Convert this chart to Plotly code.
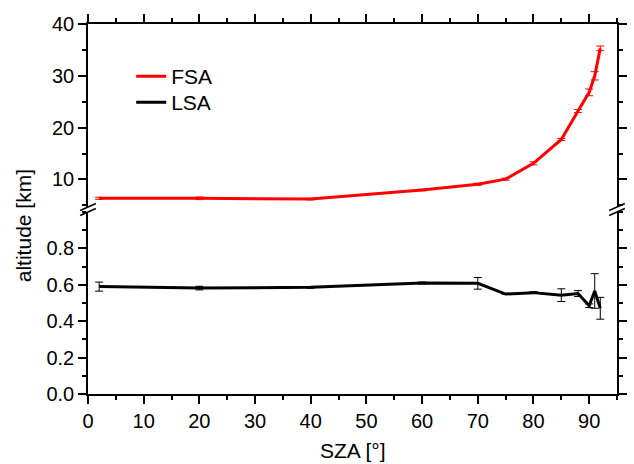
import plotly.graph_objects as go
from plotly.subplots import make_subplots

# ---- data ----
sza = [2, 20, 40, 60, 70, 75, 80, 85, 88, 90, 91, 92]
fsa = [6.35, 6.35, 6.2, 7.95, 9.05, 10.05, 13.1, 17.7, 23.2, 26.8, 30.0, 35.3]
fsa_err = [0.2, 0.25, 0.15, 0.15, 0.2, 0.2, 0.3, 0.2, 0.3, 0.65, 0.8, 0.45]
lsa = [0.59, 0.582, 0.586, 0.61, 0.608, 0.549, 0.557, 0.543, 0.552, 0.485, 0.566, 0.471]
lsa_err = [0.025, 0.01, 0.005, 0.005, 0.032, 0.0, 0.005, 0.035, 0.016, 0.01, 0.095, 0.06]

x_ticks = [0, 10, 20, 30, 40, 50, 60, 70, 80, 90]
top_ticks = [10, 20, 30, 40]
bottom_ticks = [0.0, 0.2, 0.4, 0.6, 0.8]
bottom_ticklabels = ["0.0", "0.2", "0.4", "0.6", "0.8"]

# ---- layout geometry (pixels) ----
W, H = 634, 464
L, R, T, B = 88, 7, 24, 70
PW, PH = W - L - R, H - T - B
def px(xp):
    return (xp - L) / PW
def py(yp):
    return (H - B - yp) / PH

top_bottom_px = 207
bot_top_px = 212

FONT = "Liberation Sans, Arial, sans-serif"
FS_TICK = 20
FS_TEXT = 21

fig = make_subplots(rows=2, cols=1, shared_xaxes=False, vertical_spacing=0)

fig.add_trace(go.Scatter(
    x=sza, y=fsa, mode="lines", name="FSA", legend="legend",
    line=dict(color="#ff0000", width=3),
    error_y=dict(type="data", array=fsa_err, color="#ff0000", thickness=1, width=4),
), row=1, col=1)
fig.add_trace(go.Scatter(
    x=sza, y=lsa, mode="lines", name="LSA", legend="legend2",
    line=dict(color="#000000", width=3),
    error_y=dict(type="data", array=lsa_err, color="#000000", thickness=1, width=4),
), row=2, col=1)

minor_common = dict(ticklen=4, ticks="outside", tickcolor="black", tickwidth=1.5)
axis_common = dict(
    showline=True, linecolor="black", linewidth=1.5,
    ticks="outside", ticklen=8, tickwidth=1.5, tickcolor="black",
    showgrid=False, zeroline=False,
    tickfont=dict(family=FONT, size=FS_TICK, color="black"),
)

fig.update_layout(
    xaxis=dict(**axis_common, range=[0, 95], tickvals=x_ticks, side="top",
               showticklabels=False, matches="x2",
               minor=dict(dtick=5, **minor_common)),
    xaxis2=dict(**axis_common, range=[0, 95], tickvals=x_ticks, side="bottom",
                minor=dict(dtick=5, **minor_common)),
    yaxis=dict(**axis_common, range=[40 - (top_bottom_px - T) / 5.18, 40], tickvals=top_ticks,
               mirror="ticks", domain=[py(top_bottom_px), 1],
               minor=dict(dtick=5, **minor_common)),
    yaxis2=dict(**axis_common, range=[0, 1.0], tickvals=bottom_ticks, ticktext=bottom_ticklabels,
                mirror="ticks", domain=[0, py(bot_top_px)],
                minor=dict(dtick=0.1, **minor_common)),
)

shapes = []
for cx in (L, L + PW):
    for cy in (top_bottom_px, bot_top_px):
        shapes.append(dict(type="line", xref="paper", yref="paper",
                           x0=px(cx - 8), y0=py(cy + 3.5), x1=px(cx + 8), y1=py(cy - 3.5),
                           line=dict(color="black", width=1.5)))

legend_common = dict(xanchor="left", yanchor="top", bgcolor="rgba(0,0,0,0)",
                     font=dict(family=FONT, size=FS_TEXT, color="black"))

fig.update_layout(
    width=W, height=H,
    margin=dict(l=L, r=R, t=T, b=B),
    paper_bgcolor="white", plot_bgcolor="white",
    font=dict(family=FONT, size=FS_TEXT, color="black"),
    showlegend=True,
    legend=dict(x=px(132), y=py(56), **legend_common),
    legend2=dict(x=px(132), y=py(82), **legend_common),
    shapes=shapes,
    annotations=[
        dict(text="altitude [km]", xref="paper", yref="paper", x=px(22), y=py(226),
             showarrow=False, textangle=-90, font=dict(family=FONT, size=FS_TEXT, color="black"),
             xanchor="center", yanchor="middle"),
        dict(text="SZA [°]", xref="paper", yref="paper", x=0.5, y=py(450),
             showarrow=False, font=dict(family=FONT, size=FS_TEXT, color="black"),
             xanchor="center", yanchor="middle"),
    ],
)

fig.write_html("out.html", config={"displayModeBar": False},
               post_script="document.body.style.margin='0';document.body.style.overflow='hidden';")
